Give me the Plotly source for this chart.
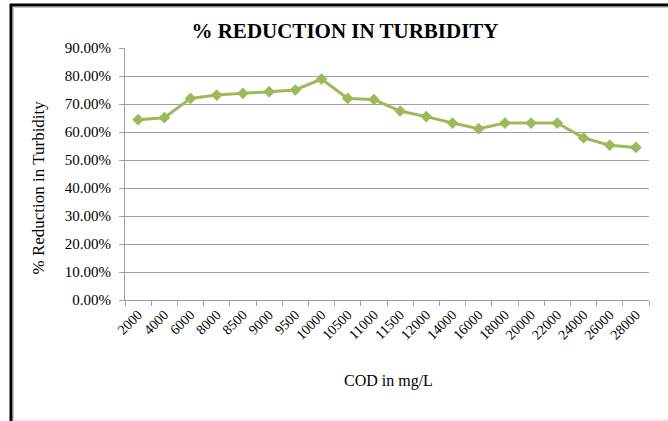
"""% reduction in turbidity vs COD"""

import plotly.graph_objects as go

cod = ["2000", "4000", "6000", "8000", "8500", "9000", "9500", "10000", "10500", "11000",
       "11500", "12000", "14000", "16000", "18000", "20000", "22000", "24000", "26000", "28000"]
reduction = [64.4, 65.1, 72.0, 73.2, 73.8, 74.4, 75.0, 78.9, 72.0, 71.6,
             67.5, 65.5, 63.2, 61.2, 63.2, 63.2, 63.2, 57.9, 55.3, 54.5]
y_ticks = [0, 10, 20, 30, 40, 50, 60, 70, 80, 90]

W, H = 668, 421
L, R, T, B = 125, 19, 48, 121
FONT = "Liberation Serif"

fig = go.Figure()
fig.add_trace(go.Scatter(
    x=cod, y=reduction, mode="lines+markers",
    line=dict(color="#9BBB59", width=3),
    marker=dict(symbol="diamond", size=9, color="#9BBB59"),
))

# frame of the embedded picture, in pixel units measured from the page corner
frame = [
    (10, 5, W, 5, "black", 3),
    (11, 4, 11, H, "black", 3),
    (13.5, 7.5, W, 7.5, "#c8c8c8", 1),
    (13.5, 7.5, 13.5, H, "#c8c8c8", 1),
    (13, 420, W, 420, "#dcdcdc", 1),
]
for x0, y0, x1, y1, c, w in frame:
    fig.add_shape(type="line", xref="paper", yref="paper",
                  x0=(x0 - L) / (W - L - R), x1=(x1 - L) / (W - L - R),
                  y0=(H - B - y0) / (H - T - B), y1=(H - B - y1) / (H - T - B),
                  line=dict(color=c, width=w), layer="above")

fig.add_annotation(text="COD in mg/L", x=(388 - L) / (W - L - R), y=(H - B - 381) / (H - T - B),
                   xref="paper", yref="paper", xanchor="center", yanchor="middle",
                   showarrow=False, font=dict(size=16, family=FONT))
fig.add_annotation(text="% Reduction in Turbidity", x=(37.5 - L) / (W - L - R), y=(H - B - 188) / (H - T - B),
                   xref="paper", yref="paper", xanchor="center", yanchor="middle",
                   showarrow=False, textangle=-90, font=dict(size=17, family=FONT))

fig.update_layout(
    width=W, height=H,
    margin=dict(l=L, r=R, t=T, b=B),
    paper_bgcolor="white", plot_bgcolor="white",
    showlegend=False,
    font=dict(family=FONT, color="black"),
    title=dict(text="<b>% REDUCTION IN TURBIDITY</b>", x=345 / W, xanchor="center",
               y=1 - 31 / H, yanchor="middle", font=dict(size=21, family=FONT)),
)
fig.update_xaxes(
    type="category", range=[-0.5, len(cod) - 0.5], tickson="boundaries", tickangle=-45, automargin=False,
    ticks="outside", ticklen=5, tickcolor="#a0a0a0",
    showline=True, linecolor="#a0a0a0", linewidth=1, showgrid=False,
    tickfont=dict(size=14, family=FONT),
)
fig.update_yaxes(
    range=[0, 90], tickvals=y_ticks, ticktext=[f"{v:.2f}%" for v in y_ticks], automargin=False,
    ticks="outside", ticklen=5, tickcolor="#a0a0a0", ticklabelstandoff=5,
    showline=True, linecolor="#a0a0a0", linewidth=1,
    showgrid=True, gridcolor="#a0a0a0", gridwidth=1, zeroline=False,
    tickfont=dict(size=15, family=FONT),
)

# page has a default 8px body margin; drop it so the figure sits at 0,0
fig.write_html("out.html", config={"displayModeBar": False},
               post_script="document.body.style.margin='0';document.body.style.overflow='hidden';window.scrollTo(0,0);")
